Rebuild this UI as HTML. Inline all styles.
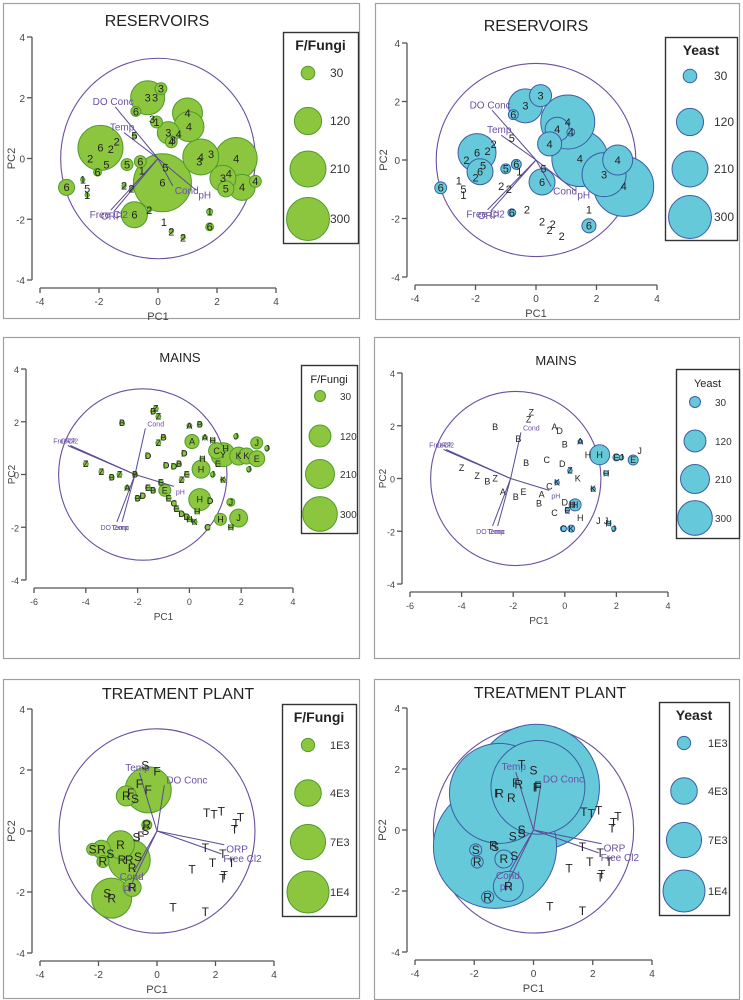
<!DOCTYPE html>
<html><head><meta charset="utf-8">
<style>
html,body{margin:0;padding:0;background:#fff;}
svg{display:block;font-family:"Liberation Sans",sans-serif;}
</style></head>
<body>
<svg id="root" width="743" height="1000" viewBox="0 0 743 1000" xmlns="http://www.w3.org/2000/svg"></svg>
<script>
// ===== DATA =====
// Reservoirs F/Fungi
const r1X=[-1.95,0.15,-0.35,1.0,1.05,1.45,2.65,2.85,2.2,-0.8,-3.1,0.35,-0.05,-1.05,-0.6,-0.75,2.3,3.3,1.75,1.75,0.45,-2.05,0.1,-2.3,-1.75,-1.6,-1.4,-2.4,-2.55,-2.4,-0.55,-0.9,-1.15,-0.3,0.2,0.45,0.85,0.25,-0.8,0.5,1.8,1.4,2.4,-0.1,-0.2,0.7];
const r1Y=[0.35,-0.8,2.0,1.5,1.05,0.05,0.0,-0.95,-0.65,-1.85,-0.95,0.85,1.2,-0.2,-0.1,1.55,-1.0,-0.75,-2.25,-1.75,0.55,-0.45,2.3,0.0,-0.2,0.3,0.55,-1.0,-0.7,-1.2,-0.4,-1.0,-0.9,-1.7,-2.1,-2.4,-2.6,-0.3,0.75,0.6,0.15,-0.1,-0.5,2.0,1.3,0.8];
const r1V=[330,547,188,146,146,210,287,110,110,110,42,79,23,23,23,16,42,23,10,6,23,10,23,0,0,0,0,0,3,3,0,3,3,3,0,3,3,0,3,0,0,0,0,0,0,0];
const r1L=["6","6","3","4","4","4","4","4","3","6","6","3","1","5","6","6","5","4","6","1","4","6","3","2","5","2","2","5","1","1","1","2","2","2","1","2","2","5","5","3","3","3","4","3","3","4"];
// Reservoirs Yeast
const r2X=[-1.95,-1.85,0.2,-0.35,1.05,0.7,0.15,1.45,2.7,2.9,2.25,0.45,-3.15,-0.75,-1.0,-0.65,1.75,-0.8,1.15,-2.3,-1.75,-1.6,-1.4,-2.4,-2.55,-2.4,-0.55,-0.9,-1.15,-0.3,0.2,0.45,0.85,0.25,-0.8,1.75,0.55,-2.0];
const r2Y=[0.25,-0.4,-0.75,1.85,1.3,1.05,2.2,0.05,0.0,-0.9,-0.5,0.55,-0.95,1.55,-0.3,-0.15,-2.25,-1.8,0.95,0.0,-0.2,0.3,0.55,-1.0,-0.7,-1.2,-0.4,-1.0,-0.9,-1.7,-2.1,-2.4,-2.6,-0.3,0.75,-1.7,-2.2,-0.6];
const r2V=[235,110,110,188,474,94,79,510,146,585,315,94,23,16,16,16,32,10,10,0,0,0,0,0,0,0,0,0,0,0,0,0,0,0,0,0,0,0];
const r2L=["6","6","6","3","4","4","3","4","4","4","3","4","6","6","5","6","6","6","4","2","5","2","2","5","1","1","1","2","2","2","2","2","2","5","5","1","2","2"];
// Mains F/Fungi
const m1X=[0.1,0.45,1.05,1.3,1.9,2.2,2.6,2.6,0.4,1.9,1.2,-0.95,1.6,-1.3,-1.4,-1.2,-2.6,-1.0,-1.2,-1.6,-0.9,-0.4,-0.1,0.0,0.4,0.6,0.9,1.1,1.4,1.8,2.3,3.0,-4.0,-3.4,-3.0,-2.7,-2.4,-2.1,-2.0,-1.6,-1.4,-0.6,-0.5,-0.3,-0.1,0.0,0.2,0.3,0.7,0.8,1.6,-0.6,-0.3,-0.8,0.9,1.3,-1.8,-1.1,-0.2,0.5];
const m1Y=[1.25,0.2,0.9,0.75,0.7,0.7,0.6,1.2,-0.95,-1.65,-1.7,-0.6,-1.05,2.5,2.4,2.2,1.95,1.4,1.2,0.7,0.35,0.4,0.0,1.85,1.9,1.4,1.3,0.4,1.0,1.45,0.2,1.0,0.4,0.1,-0.1,0.0,-0.5,0.0,-0.9,-0.5,-0.6,-1.1,-1.3,-1.5,-1.6,-1.7,-1.8,-1.4,-2.0,-1.0,-2.0,0.3,-0.2,-0.9,0.0,-0.2,-0.8,-0.3,0.8,0.6];
const m1V=[50,80,64,144,80,64,64,36,120,80,36,36,16,6,6,6,6,6,6,6,6,6,6,6,6,6,6,6,6,6,6,6,6,6,6,6,6,6,6,6,6,6,6,6,6,6,6,6,6,6,6,6,6,6,6,6,6,6,6,6];
const m1L=["A","H","C","Y","K","K","E","J","H","J","H","E","J","Z","B","Z","B","B","Z","D","D","B","E","A","B","A","H","E","H","J","J","J","Z","Z","B","Z","A","B","B","E","B","C","E","D","D","H","K","H","C","D","H","D","Z","E","J","K","D","E","D","H"];
// Mains Yeast
const m2X=[1.35,0.4,2.65,0.25,-0.05,2.0,1.6,-1.3,-1.4,-2.7,-1.8,-1.5,-4.0,-3.4,-3.0,-2.7,-2.4,-0.4,-0.2,0.0,0.6,0.9,-0.7,-0.1,0.2,0.5,-0.6,-0.3,0.0,0.3,0.6,1.3,1.6,2.2,2.9,1.7,1.9,-0.9,-1.0,-0.4,0.1,1.1,-1.6,-1.9];
const m2Y=[0.9,-1.0,0.7,-1.9,-1.9,0.8,0.2,2.5,2.25,1.95,1.5,0.6,0.4,0.1,-0.1,0.0,-0.5,1.95,1.8,1.3,1.4,0.9,0.7,0.55,0.3,0.0,-0.3,-0.15,-0.9,-1.0,-1.5,-1.6,-1.6,0.8,1.05,-1.7,-1.9,-0.6,-0.95,-1.3,-1.2,-0.4,-0.5,-0.7];
const m2V=[100,36,25,12,9,12,6,0,0,0,0,0,0,0,0,0,0,0,0,0,5,0,0,0,5,0,0,5,0,5,0,0,0,5,0,5,5,0,0,0,5,5,0,0];
const m2L=["H","H","E","K","C","E","H","Z","Z","B","B","B","Z","Z","B","Z","A","A","D","B","A","H","C","D","Z","K","C","K","D","H","H","J","J","J","J","H","J","A","B","C","E","K","E","B"];
// Treatment plant F/Fungi
const t1X=[-0.3,-0.95,-1.55,-1.25,-1.05,-0.85,-1.9,-1.85,-2.2,-0.35,1.7,1.95,2.2,2.85,2.7,2.65,1.65,2.25,1.9,2.55,1.2,2.3,2.25,0.55,1.65,-0.4,0.0,-0.6,-0.9,-0.75,-0.4,-0.7,-0.65,-0.85,-1.2,-0.55,-1.6,-1.7];
const t1Y=[1.35,-0.95,-2.2,-0.45,1.15,-1.85,-0.6,-1.0,-0.6,0.2,0.6,0.55,0.65,0.45,0.25,0.05,-0.55,-0.75,-1.05,-1.05,-1.25,-1.45,-1.55,-2.5,-2.65,2.15,1.95,1.55,1.25,1.05,0.0,-0.2,-0.85,-1.2,-0.95,-0.15,-0.75,-2.05];
const t1V=[12000,10000,9070,4444,2268,1837,1837,816,816,567,0,0,0,0,0,0,0,0,0,0,0,0,0,0,0,0,0,0,0,0,0,0,0,0,0,0,0,0];
const t1L=["F","R","R","R","R","R","R","R","S","R","T","T","T","T","T","T","T","T","T","T","T","T","T","T","T","S","F","F","F","S","S","S","S","R","R","F","S","S"];
// Treatment plant Yeast
const t2X=[-1.15,0.1,-1.3,0.15,-0.85,-1.0,-1.95,-1.9,-1.55,1.7,1.95,2.2,2.85,2.7,2.65,1.65,2.25,1.9,2.55,1.2,2.3,2.25,0.55,1.65,-0.4,0.0,-0.6,-1.2,-0.75,-0.4,-0.7,-0.65,-0.4,-1.35,-0.5,0.15];
const t2Y=[1.2,1.4,-0.55,1.4,-1.85,-0.95,-0.65,-1.05,-2.2,0.6,0.55,0.65,0.45,0.25,0.05,-0.55,-0.75,-1.05,-1.05,-1.25,-1.45,-1.55,-2.5,-2.65,2.15,1.95,1.55,1.2,1.05,0.0,-0.2,-0.85,-0.1,-0.5,1.5,1.45];
const t2V=[56700,90000,86000,50000,5100,1837,816,816,816,0,0,0,0,0,0,0,0,0,0,0,0,0,0,0,0,0,0,0,0,0,0,0,0,0,0,0];
const t2L=["R","F","S","F","R","R","S","R","R","T","T","T","T","T","T","T","T","T","T","T","T","T","T","T","T","S","F","F","R","S","S","S","S","R","R","F","F"];
// Vectors (loadings)
const resVecN=["DO Conc","Temp","Cond","pH","Free  Cl2","ORP"];
const resVecX=[-1.45,-1.15,0.5,1.3,-1.6,-1.5];
const resVecY=[1.7,0.85,-0.9,-1.05,-1.7,-1.75];
const mainVecN=["Cond","FreeCl2","ORP","pH","DO Conc","Temp"];
const mainVecX=[-1.7,-4.7,-4.6,-0.6,-2.8,-2.6];
const mainVecY=[1.75,1.1,1.1,-0.45,-1.8,-1.8];
const trtVecN=["Temp","DO Conc","ORP","Free  Cl2","Cond","pH"];
const trtVecX=[-0.6,0.25,2.3,2.2,-0.8,-0.85];
const trtVecY=[1.9,1.5,-0.45,-0.75,-1.35,-1.7];
// Legend values
const legResV=[30,120,210,300];
const legResT=["30","120","210","300"];
const legTrtV=[1000,4000,7000,10000];
const legTrtT=["1E3","4E3","7E3","1E4"];
const ticksRes=[-4,-2,0,2,4];
const ticksMainX=[-6,-4,-2,0,2,4];
const ticksY=[-4,-2,0,2,4];

// ===== DRAWING =====
const NS="http://www.w3.org/2000/svg";
const root=document.getElementById('root');
function mk(tag,attrs,parent){const e=document.createElementNS(NS,tag);for(const k in attrs)e.setAttribute(k,attrs[k]);(parent||root).appendChild(e);return e;}
function txt(s,attrs,parent){const e=mk('text',attrs,parent);e.textContent=s;return e;}

const GREEN={fill:"#8cc63e",stroke:"#4f9a2c"};
const CYAN={fill:"#66c9da",stroke:"#3b5ea6"};

function panel(cfg){
  const g=mk('g',{});
  
  
  const fr=mk('rect',{x:cfg.frame[0]+0.5,y:cfg.frame[1]+0.5,width:cfg.frame[2],height:cfg.frame[3],fill:"#fff",stroke:"#a0a0a0","stroke-width":1.2},g);
  
  
  const sx=v=>cfg.x0px+(v-cfg.xmin)*(cfg.x1px-cfg.x0px)/(cfg.xmax-cfg.xmin);
  const sy=v=>cfg.y0px+(4-v)*(cfg.y1px-cfg.y0px)/8;
  const t=txt(cfg.title,{x:cfg.titlePos[0],y:cfg.titlePos[1],"text-anchor":"middle","font-size":cfg.titleSize,fill:"#222"},g);
  
  
  const ax=mk('g',{stroke:"#555","stroke-width":1.3,fill:"none"},g);
  
  
  const baseY=sy(-4)+8, baseX=sx(cfg.xmin)-8;
  mk('line',{x1:sx(cfg.xmin),y1:baseY,x2:sx(cfg.xmax),y2:baseY},ax);
  mk('line',{x1:baseX,y1:sy(-4),x2:baseX,y2:sy(4)},ax);
  cfg.xticks.forEach(v=>{
    mk('line',{x1:sx(v),y1:baseY,x2:sx(v),y2:baseY+5},ax);
    const tl=txt(String(v),{x:sx(v),y:baseY+17,"text-anchor":"middle","font-size":cfg.tickSize,fill:"#444",stroke:"none"},g);
    
    
  });
  ticksY.forEach(v=>{
    mk('line',{x1:baseX-5,y1:sy(v),x2:baseX,y2:sy(v)},ax);
    const tl=txt(String(v),{x:baseX-7,y:sy(v)+4,"text-anchor":"end","font-size":cfg.tickSize,fill:"#444"},g);
    
    
  });
  const xt=txt("PC1",{x:(sx(cfg.xmin)+sx(cfg.xmax))/2,y:baseY+32,"text-anchor":"middle","font-size":cfg.tickSize+1,fill:"#444"},g);
  
  
  const yx=Math.max(baseX-24,cfg.frame[0]+12), yy=sy(0);
  const yt=txt("PC2",{x:yx,y:yy,"text-anchor":"middle","font-size":cfg.tickSize+1,fill:"#444",transform:`rotate(-90 ${yx} ${yy})`},g);
  
  
  const cc=mk('ellipse',{cx:sx(cfg.cc[0]),cy:sy(cfg.cc[1]),rx:Math.abs(sx(cfg.cc[0]+cfg.cc[2])-sx(cfg.cc[0])),ry:Math.abs(sy(cfg.cc[1]+cfg.cc[2])-sy(cfg.cc[1])),fill:"none",stroke:"#6a4f9e","stroke-width":1.1},g);
  
  
  const bg=mk('g',{},g);
  
  
  const idx=cfg.X.map((_,i)=>i).sort((a,b)=>cfg.V[b]-cfg.V[a]);
  idx.forEach(i=>{
    const r=cfg.k*Math.sqrt(cfg.V[i]);
    if(r>0.5){
      const c=mk('circle',{cx:sx(cfg.X[i]),cy:sy(cfg.Y[i]),r:r,fill:cfg.col.fill,stroke:cfg.col.stroke,"stroke-width":1},bg);
      
      
    }
  });
  const vg=mk('g',{},g);
  
  
  cfg.vN.forEach((n,i)=>{
    const l=mk('line',{x1:sx(cfg.vo[0]),y1:sy(cfg.vo[1]),x2:sx(cfg.vX[i]),y2:sy(cfg.vY[i]),stroke:"#5b4a94","stroke-width":1},vg);
    
    
    const left=cfg.vX[i]<cfg.vo[0];
    const lt=txt(n,{x:sx(cfg.vX[i])+(left?-2:2),y:sy(cfg.vY[i])+(cfg.vY[i]<0?8:-2),"text-anchor":left?"middle":"start","font-size":cfg.vSize,fill:"#6b4fa3"},vg);
    
    
  });
  const lg=mk('g',{},g);
  
  
  cfg.X.forEach((x,i)=>{
    const s=txt(cfg.L[i],{x:sx(x),y:sy(cfg.Y[i])+cfg.lSize*0.35,"text-anchor":"middle","font-size":cfg.lSize,fill:"#222"},lg);
    
    
  });
  const L=cfg.leg;
  const leg=mk('g',{},g);
  
  
  mk('rect',{x:L.box[0]+0.5,y:L.box[1]+0.5,width:L.box[2],height:L.box[3],fill:"#fff",stroke:"#333","stroke-width":1.4},leg);
  const lt=txt(L.title,{x:L.box[0]+L.box[2]/2,y:L.box[1]+18,"text-anchor":"middle","font-size":L.tsize,"font-weight":L.bold?"bold":"normal",fill:"#222"},leg);
  
  
  L.vals.forEach((v,i)=>{
    const c=mk('circle',{cx:L.cx,cy:L.cys[i],r:L.k*Math.sqrt(v),fill:cfg.col.fill,stroke:cfg.col.stroke,"stroke-width":1},leg);
    
    
    const tt=txt(L.texts[i],{x:L.tx,y:L.cys[i]+4,"font-size":L.lsize,fill:"#333"},leg);
    
    
  });
}

const resLegend=(box,cx,cys,tx,title)=>({box,cx,cys,tx,title,vals:legResV,texts:legResT,k:1.24,tsize:14,bold:true,lsize:12});

panel({name:'reservoirs-fungi-panel',frame:[3,3,356,315],x0px:40,x1px:276,y0px:37,y1px:280,xmin:-4,xmax:4,xticks:ticksRes,
  title:"RESERVOIRS",titlePos:[157,26],titleSize:16,tickSize:10,cc:[0,0,3.3],X:r1X,Y:r1Y,V:r1V,L:r1L,k:1.24,col:GREEN,
  vN:resVecN,vX:resVecX,vY:resVecY,vo:[0,0],vSize:10,lSize:11,
  leg:resLegend([283,32,75,211],308,[73,121,169,219],330,"F/Fungi")});
panel({name:'reservoirs-yeast-panel',frame:[375,3,364,316],x0px:415,x1px:657,y0px:43,y1px:277,xmin:-4,xmax:4,xticks:ticksRes,
  title:"RESERVOIRS",titlePos:[536,31],titleSize:16,tickSize:10,cc:[0,0,3.3],X:r2X,Y:r2Y,V:r2V,L:r2L,k:1.24,col:CYAN,
  vN:resVecN,vX:resVecX,vY:resVecY,vo:[0,0],vSize:10,lSize:11,
  leg:resLegend([665,37,72,203],690,[76,122,169,217],714,"Yeast")});
panel({name:'mains-fungi-panel',frame:[3,337,356,321],x0px:34,x1px:293,y0px:369,y1px:580,xmin:-6,xmax:4,xticks:ticksMainX,
  title:"MAINS",titlePos:[180,362],titleSize:13,tickSize:9,cc:[-1.8,0,3.25],X:m1X,Y:m1Y,V:m1V,L:m1L,k:1.0,col:GREEN,
  vN:mainVecN,vX:mainVecX,vY:mainVecY,vo:[-2.1,0],vSize:7,lSize:9,
  leg:{box:[301,365,56,168],cx:320,cys:[396,436,474,514],tx:340,title:"F/Fungi",vals:legResV,texts:legResT,k:1.0,tsize:11,bold:false,lsize:10}});
panel({name:'mains-yeast-panel',frame:[374,337,365,321],x0px:410,x1px:668,y0px:373,y1px:584,xmin:-6,xmax:4,xticks:ticksMainX,
  title:"MAINS",titlePos:[556,365],titleSize:13,tickSize:9,cc:[-1.9,0,3.3],X:m2X,Y:m2Y,V:m2V,L:m2L,k:1.0,col:CYAN,
  vN:mainVecN,vX:mainVecX,vY:mainVecY,vo:[-2.1,0],vSize:7,lSize:9,
  leg:{box:[676,369,63,169],cx:695,cys:[402,441,479,518],tx:715,title:"Yeast",vals:legResV,texts:legResT,k:1.0,tsize:11,bold:false,lsize:10}});
panel({name:'treatment-fungi-panel',frame:[3,679,356,319],x0px:40,x1px:274,y0px:709,y1px:953,xmin:-4,xmax:4,xticks:ticksRes,
  title:"TREATMENT PLANT",titlePos:[178,699],titleSize:16,tickSize:10,cc:[0,0,3.35],X:t1X,Y:t1Y,V:t1V,L:t1L,k:0.21,col:GREEN,
  vN:trtVecN,vX:trtVecX,vY:trtVecY,vo:[0,0],vSize:10,lSize:12,
  leg:{box:[282,704,74,212],cx:308,cys:[745,793,842,892],tx:330,title:"F/Fungi",vals:legTrtV,texts:legTrtT,k:0.21,tsize:14,bold:true,lsize:11}});
panel({name:'treatment-yeast-panel',frame:[374,679,365,320],x0px:415,x1px:652,y0px:708,y1px:952,xmin:-4,xmax:4,xticks:ticksRes,
  title:"TREATMENT PLANT",titlePos:[550,698],titleSize:16,tickSize:10,cc:[0,0,3.38],X:t2X,Y:t2Y,V:t2V,L:t2L,k:0.21,col:CYAN,
  vN:trtVecN,vX:trtVecX,vY:trtVecY,vo:[0,0],vSize:10,lSize:12,
  leg:{box:[659,702,70,213],cx:684,cys:[743,791,840,891],tx:708,title:"Yeast",vals:legTrtV,texts:legTrtT,k:0.21,tsize:14,bold:true,lsize:11}});
</script>
</body></html>
